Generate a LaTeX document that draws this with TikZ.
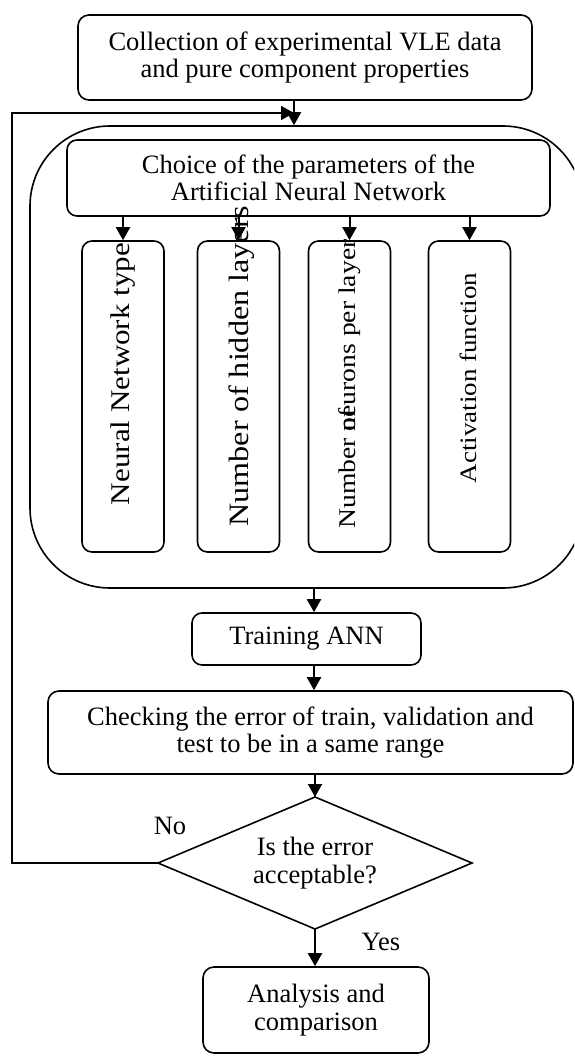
\documentclass[tikz,border=0pt]{standalone}
\usepackage{fontspec}
\setmainfont{Liberation Serif}
\newfontfamily\wideserif[FakeStretch=1.15]{Liberation Serif}
\usetikzlibrary{arrows.meta,shapes.geometric}

\tikzset{
  txt/.style={font=\fontsize{26.5}{27.5}\selectfont, align=center},
  box/.style={draw, line width=1.6pt, rounded corners=11pt, inner sep=0pt, txt},
  vbox/.style={draw, line width=1.6pt, rounded corners=10pt, inner sep=0pt,
    minimum width=82pt, minimum height=311pt},
  vtext/.style={rotate=90, inner sep=0pt},
  flow/.style={line width=2pt, -{Triangle[length=13pt,width=14pt]}},
}

\begin{document}
\begin{tikzpicture}[x=1pt, y=-1pt]
  \useasboundingbox (0,0) rectangle (574,1056);

  % large frame around the parameter choices (runs off the right edge)
  \begin{scope}
    \clip (0,0) rectangle (574,1056);
    \node[draw, line width=1.6pt, rounded corners=80pt, inner sep=0pt,
      minimum width=553pt, minimum height=462pt] (outer) at (306.5,357) {};
  \end{scope}

  % main flow boxes
  \node[box, minimum width=454pt, minimum height=85pt] (collect) at (305,57.5)
    {Collection of experimental VLE data\\and pure component properties};
  \node[box, rounded corners=10pt, minimum width=483pt, minimum height=76pt] (choice) at (308.5,178)
    {Choice of the parameters of the\\Artificial Neural Network};

  % the four parameter boxes
  \node[vbox] (p1) at (123,396.5) {};
  \node[vbox] (p2) at (238.5,396.5) {};
  \node[vbox] (p3) at (349.5,396.5) {};
  \node[vbox] (p4) at (469.5,396.5) {};

  \node[vtext, font=\wideserif\fontsize{27}{30}\selectfont] (t1) at (123,374) {Neural Network type};
  \node[vtext, font=\wideserif\fontsize{28}{30}\selectfont] (t2) at (242,366) {Number of hidden layers};
  \node[vtext, font=\wideserif\fontsize{24}{26}\selectfont] (t3) at (350,384) {Number \rlap{of}neurons per layer};
  \node[vtext, font=\wideserif\fontsize{23.5}{26}\selectfont] (t4) at (468,378) {Activation function};

  \node[box, rounded corners=10pt, minimum width=229pt, minimum height=52pt] (train) at (306.5,639) {Training ANN};
  \node[box, minimum width=525pt, minimum height=83pt] (check) at (310.5,732.5)
    {Checking the error of train, validation and\\test to be in a same range};
  \node[draw, diamond, aspect=2.38, line width=1.6pt, inner sep=0pt, outer sep=0pt, txt,
    minimum width=314pt, minimum height=132pt] (decide) at (315,863)
    {Is the error\\acceptable?};
  \node[box, minimum width=226pt, minimum height=86pt] (analysis) at (316,1010)
    {Analysis and\\comparison};

  % branch labels
  \node[txt] (no) at (170,826) {No};
  \node[txt] (yes) at (381,942) {Yes};

  % helper points
  \coordinate (join) at (294,113);
  \coordinate (spine) at (314,0);
  \coordinate (back) at (12,0);

  % connectors
  \draw[flow] (collect.south -| join) -- (outer.north -| join);
  \foreach \p in {p1,p2,p3,p4}
    \draw[flow] (\p.north |- choice.south) -- (\p.north);
  \draw[flow] (outer.south -| spine) -- (train.north -| spine);
  \draw[flow] (train.south -| spine) -- (check.north -| spine);
  \draw[flow] (check.south -| decide.north) -- (decide.north);
  \draw[flow] (decide.south) -- (decide.south |- analysis.north);
  \draw[flow, line width=1.7pt] (decide.west) -- (decide.west -| back) |- (join);
\end{tikzpicture}
\end{document}
